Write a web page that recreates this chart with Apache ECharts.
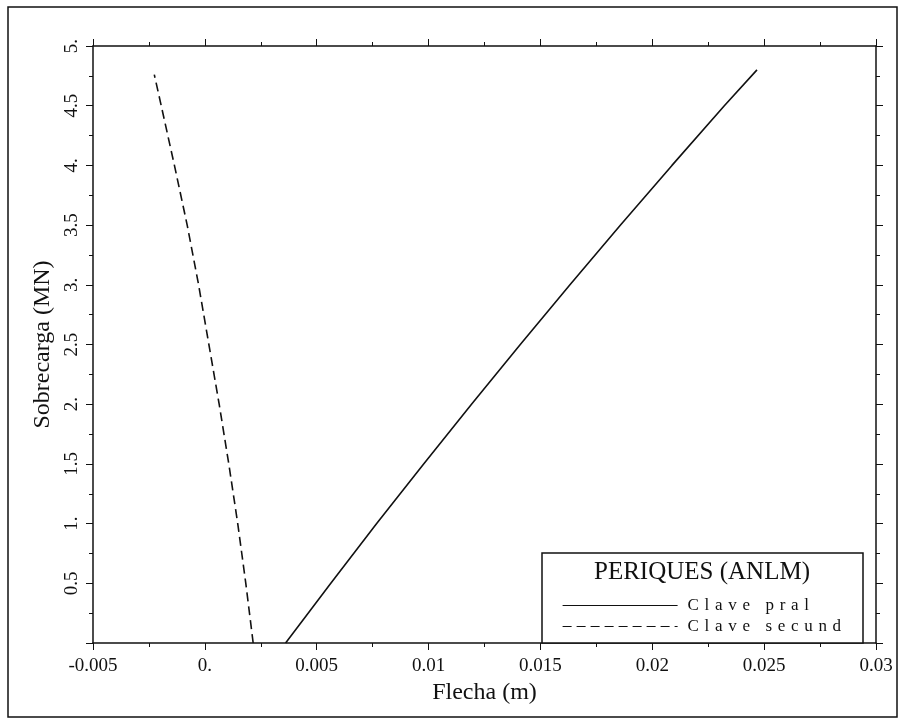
<!DOCTYPE html>
<html>
<head>
<meta charset="utf-8">
<script src="https://cdn.jsdelivr.net/npm/echarts@6/dist/echarts.min.js"></script>
<style>
  html, body { margin: 0; padding: 0; background: #fff; }
  #chart { width: 905px; height: 725px; }
</style>
</head>
<body>
<div id="chart"></div>
<script>
// Sobrecarga (MN) frente a flecha (m)
const pralCarga = [0, 0.5, 1.0, 1.5, 2.0, 2.5, 3.0, 3.5, 4.0, 4.5, 4.8]
const pralFlecha = [0.00361, 0.00563, 0.00768, 0.00978, 0.01192, 0.0141, 0.01632, 0.01858, 0.02088, 0.02322, 0.02468]
const secCarga = [0, 0.5, 1.0, 1.5, 2.0, 2.5, 3.0, 3.5, 4.0, 4.5, 4.76]
const secFlecha = [0.00216, 0.00183, 0.00147, 0.00107, 0.00064, 0.00018, -0.00028, -0.00079, -0.00136, -0.00195, -0.00226]
const xLabels = ['-0.005', '0.', '0.005', '0.01', '0.015', '0.02', '0.025', '0.03']
const yLabels = ['', '0.5', '1.', '1.5', '2.', '2.5', '3.', '3.5', '4.', '4.5', '5.']

const FONT = '"Liberation Serif", "DejaVu Serif", serif'
const INK = '#111'

const pair = (xs, ys) => xs.map((x, i) => [x, ys[i]])

const tickBase = {
  axisLine: { show: true, onZero: false, lineStyle: { color: INK, width: 1.5 } },
  axisTick: { show: true, inside: false, length: 7, lineStyle: { color: INK, width: 1 } },
  minorTick: { show: true, splitNumber: 2, length: 4, lineStyle: { color: INK, width: 1 } },
  splitLine: { show: false }
}

const chart = echarts.init(document.getElementById('chart'))

chart.setOption({
  backgroundColor: '#fff',
  animation: false,
  color: [INK, INK],
  grid: { left: 93, top: 46, right: 29, bottom: 82, outerBoundsMode: 'none' },
  xAxis: [{
    type: 'value', position: 'bottom', min: -0.005, max: 0.03, interval: 0.005,
    ...tickBase,
    axisLabel: {
      margin: 14, color: INK, fontFamily: FONT, fontSize: 19,
      formatter: v => xLabels[Math.round((v + 0.005) / 0.005)]
    },
    name: 'Flecha (m)', nameLocation: 'middle', nameGap: 35,
    nameTextStyle: { color: INK, fontFamily: FONT, fontSize: 24 }
  }, {
    type: 'value', position: 'top', min: -0.005, max: 0.03, interval: 0.005,
    ...tickBase,
    axisLabel: { show: false }
  }],
  yAxis: [{
    type: 'value', position: 'left', min: 0, max: 5, interval: 0.5,
    ...tickBase,
    axisLabel: {
      rotate: 90, margin: 11, color: INK, fontFamily: FONT, fontSize: 19,
      formatter: v => yLabels[Math.round(v / 0.5)]
    },
    name: 'Sobrecarga (MN)', nameLocation: 'middle', nameGap: 36,
    nameTextStyle: { color: INK, fontFamily: FONT, fontSize: 24 }
  }, {
    type: 'value', position: 'right', min: 0, max: 5, interval: 0.5,
    ...tickBase,
    axisLabel: { show: false }
  }],
  legend: {
    orient: 'vertical', left: 557, top: 592, z: 20,
    itemWidth: 115, itemHeight: 14, itemGap: 4,
    itemStyle: { opacity: 0 },
    lineStyle: { width: 1.2 },
    textStyle: { color: INK, fontFamily: FONT, fontSize: 17, padding: [0, 0, 0, 5] },
    formatter: n => n.split('').join(' \u200a'),
    data: ['Clave pral', 'Clave secund']
  },
  graphic: [
    { type: 'rect', shape: { x: 8, y: 7, width: 889, height: 710 },
      style: { fill: 'none', stroke: INK, lineWidth: 1.5 }, silent: true },
    { type: 'rect', shape: { x: 542, y: 553, width: 321, height: 90 },
      style: { fill: '#fff', stroke: INK, lineWidth: 1.5 }, z: 3 },
    { type: 'text', x: 702, y: 572, z: 21,
      style: { text: 'PERIQUES (ANLM)', fill: INK, font: '25px ' + FONT, align: 'center', verticalAlign: 'middle' } }
  ],
  series: [{
    name: 'Clave pral', type: 'line', symbol: 'none', xAxisIndex: 0, yAxisIndex: 0,
    itemStyle: { color: INK },
    lineStyle: { color: INK, width: 1.6, type: 'solid' },
    data: pair(pralFlecha, pralCarga)
  }, {
    name: 'Clave secund', type: 'line', symbol: 'none', xAxisIndex: 0, yAxisIndex: 0,
    itemStyle: { color: INK },
    lineStyle: { color: INK, width: 1.6, type: [9, 5] },
    data: pair(secFlecha, secCarga)
  }]
})
</script>
</body>
</html>
